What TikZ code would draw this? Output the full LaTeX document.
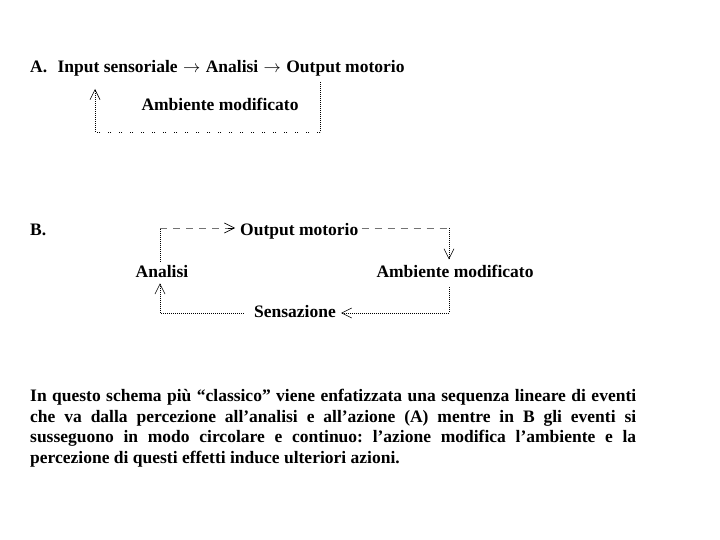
\documentclass[tikz,border=0pt]{standalone}
\usepackage{fontspec}
\setmainfont{Liberation Serif}[BoldFont={Liberation Serif Bold}]
\usetikzlibrary{positioning,arrows.meta}

\tikzset{
  lbl/.style={font=\fontsize{17.5}{20.7}\selectfont\bfseries, inner sep=0pt},
  fine/.style={line width=0.6pt, dash pattern=on 0.8pt off 1.2pt},
  sparse/.style={line width=0.6pt, dash pattern=on 0.8pt off 1.4pt on 0.8pt off 8pt},
  dashy/.style={line width=0.6pt, draw=black!55, dash pattern=on 7pt off 6pt},
  barb/.style={-{Straight Barb[length=10pt,width=10pt,line width=0.6pt]}}
}

\begin{document}
\begin{tikzpicture}[x=1pt,y=-1pt]
\useasboundingbox (0,0) rectangle (720,540);

% A: sequenza lineare
\node[lbl, anchor=base west] (lblA) at (30,73) {A.};
\node[lbl, base right=10pt of lblA] (inA) {Input sensoriale};
\node[lbl, base right=5pt of inA] (arA1) {$\rightarrow$};
\node[lbl, base right=5pt of arA1] (anA) {Analisi};
\node[lbl, base right=5pt of anA] (arA2) {$\rightarrow$};
\node[lbl, base right=5pt of arA2] (outA) {Output motorio};
\node[lbl, anchor=base] (ambA) at (220,111) {Ambiente modificato};

\coordinate (rA) at (320,82);
\coordinate (cA1) at (320,132);
\coordinate (cA2) at (95,132);
\coordinate (lA) at (95,89);
\draw[fine] (rA) -- (cA1);
\draw[sparse] (cA1) -- (cA2);
\draw[fine,barb] (cA2) -- (lA);

% B: ciclo
\node[lbl, anchor=base west] (lblB) at (30,236) {B.};
\node[lbl, anchor=base west] (outB) at (240,236) {Output motorio};
\node[lbl, anchor=base] (anB) at (162,277) {Analisi};
\node[lbl, anchor=base] (ambB) at (455,277) {Ambiente modificato};
\node[lbl, anchor=base] (senB) at (295,317) {Sensazione};

\coordinate (cB1) at (160,228);
\coordinate (cB2) at (449,228);
\coordinate (cB3) at (449,313);
\coordinate (cB4) at (160,313);
\draw[fine] ([xshift=-2pt,yshift=3pt]anB.north) -- (cB1);
\draw[dashy] (cB1) -- ([xshift=-10pt]cB1 -| outB.west);
\draw[barb] ([xshift=-12pt]cB1 -| outB.west) -- ([xshift=-5pt]cB1 -| outB.west);
\draw[dashy] ([xshift=3pt]cB2 -| outB.east) -- (cB2);
\draw[fine,barb] (cB2) -- ([yshift=5pt]cB2 |- ambB.north);
\draw[fine] ([yshift=-10pt]cB2 |- ambB.south) -- (cB3);
\draw[fine,barb] (cB3) -- ([xshift=5pt]cB3 -| senB.east);
\draw[fine] ([xshift=-10pt]cB4 -| senB.west) -- (cB4);
\draw[fine,barb] (cB4) -- ([yshift=-6pt]cB4 |- anB.south);

% commento
\node[lbl, anchor=north west, text width=606pt, align=justify] (par) at (30,389)
  {\frenchspacing In questo schema più “classico” viene enfatizzata una sequenza lineare di eventi\linebreak
   che va dalla percezione all’analisi e all’azione (A) mentre in B gli eventi si\linebreak
   susseguono in modo circolare e continuo: l’azione modifica l’ambiente e la\linebreak
   percezione di questi effetti induce ulteriori azioni.};
\end{tikzpicture}
\end{document}
